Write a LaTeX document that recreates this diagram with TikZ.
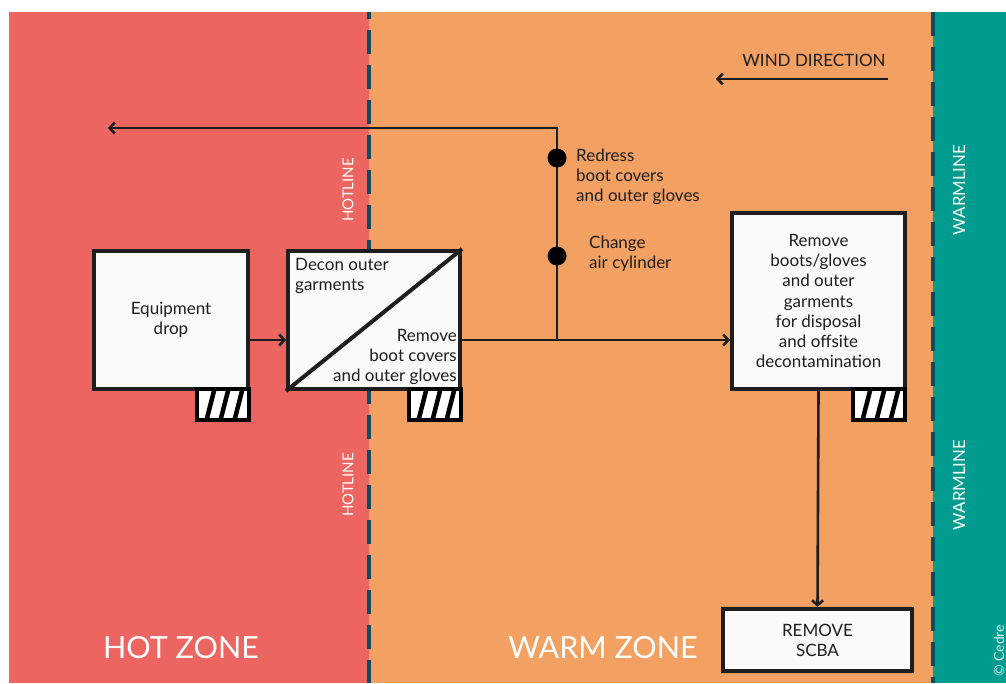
\documentclass[tikz,border=0pt]{standalone}
\usepackage{fontspec}
\setmainfont{Lato}
\usetikzlibrary{arrows.meta}
\definecolor{hotred}{HTML}{EC6560}
\definecolor{warmorange}{HTML}{F3A063}
\definecolor{tealzone}{HTML}{009C8F}
\definecolor{dashblue}{HTML}{124A60}
\definecolor{ink}{HTML}{1E1E1E}
\definecolor{boxfill}{HTML}{FAFAFA}
\tikzset{
 stepbox/.style={draw=ink, line width=4pt, fill=boxfill, inner sep=0pt, text=ink, align=center, font=\fontsize{17}{20.2}\selectfont},
 lbl/.style={text=ink, font=\fontsize{17}{20.2}\selectfont, inner sep=0pt},
 conn/.style={draw=ink, line width=2.6pt},
 arr/.style={conn, -{Straight Barb[length=5pt,width=11pt]}},
 zonelbl/.style={text=white, font=\fontsize{30.5}{36}\selectfont, inner sep=0pt},
 linelbl/.style={text=white, font=\fontsize{15}{18}\selectfont, rotate=90, inner sep=0pt},
 zoneline/.style={draw=dashblue, line width=3.5pt, dash pattern=on 24pt off 11pt},
 dotnode/.style={circle, fill=black, minimum size=19pt, inner sep=0pt},
}
\newcommand\hatchbox[2]{%
 \begin{scope}
  \clip (#1,#2) rectangle ++(52,31);
  \fill[white] (#1,#2) rectangle ++(52,31);
  \foreach \k in {0,1,2,3} \draw[black, line width=4.5pt] ({#1+9+14*\k},{#2+33}) -- ++(9,-35);
 \end{scope}
 \draw[black, line width=3.5pt] (#1,#2) rectangle ++(52,31);
}
\begin{document}
\begin{tikzpicture}[x=1pt,y=-1pt]
\useasboundingbox (0,0) rectangle (1006,683);
\clip (0,0) rectangle (1006,683);
% zones
\fill[white] (0,0) rectangle (1006,683);
\fill[hotred] (9,12) rectangle (369,683);
\fill[warmorange] (369,12) rectangle (933,683);
\fill[tealzone] (933,12) rectangle (1006,683);
\draw[zoneline, dash phase=17pt] (369,12) -- (369,683);
\draw[zoneline] (933,12) -- (933,683);
% zone line labels
\node[linelbl] (hot1) at (348,190) {HOTLINE};
\node[linelbl] (hot2) at (348,485) {HOTLINE};
\node[linelbl, font=\fontsize{16.8}{18}\selectfont] (warm1) at (959,190) {WARMLINE};
\node[linelbl, font=\fontsize{16.8}{18}\selectfont] (warm2) at (959,485) {WARMLINE};
\node[text=white, opacity=0.85, font=\fontsize{14}{16}\selectfont, rotate=90, anchor=base west, inner sep=0pt] (copy) at (1004,677) {© Cedre};
% zone labels
\node[zonelbl] (hotz) at (181,648) {HOT ZONE};
\node[zonelbl] (warmz) at (603,648) {WARM ZONE};
% wind
\node[lbl] (windtxt) at (814,60) {WIND DIRECTION};
\coordinate (windstart) at (888,79);
\coordinate (windend) at (716,79);
\draw[arr] (windstart) -- (windend);
% boxes
\node[stepbox, minimum width=154pt, minimum height=138pt] (drop) at (171,320) {Equipment\\drop};
\node[stepbox, minimum width=172pt, minimum height=138pt] (decon) at (374,320) {};
\draw[ink, line width=4pt] (decon.south west) -- (decon.north east);
\node[lbl, anchor=north west, align=left] (decontop) at (295,258) {Decon outer\\garments};
\node[lbl, anchor=south east, align=right] (deconbot) at (457,385) {Remove\\boot covers\\and outer gloves};
\node[stepbox, minimum width=173pt, minimum height=176pt] (bigbox) at (818.5,301) {Remove\\boots/gloves\\and outer\\garments\\for disposal\\and offsite\\decontamination};
\node[stepbox, minimum width=189pt, minimum height=62pt] (scba) at (817.5,640) {REMOVE\\SCBA};
\hatchbox{197}{389}
\hatchbox{409}{389}
\hatchbox{853}{389}
% connectors
\coordinate (flowy) at (0,340);
\coordinate (junction) at (557,340);
\coordinate (ret) at (108,128);
\draw[arr] (drop.east |- flowy) -- (decon.west |- flowy);
\draw[arr] (decon.east |- flowy) -- (bigbox.west |- flowy);
\draw[arr] (junction) |- (ret);
\draw[arr] (bigbox.south) -- (scba.north);
\node[dotnode] (dot1) at (557,158) {};
\node[dotnode] (dot2) at (557,256) {};
\node[lbl, anchor=west, align=left] (redress) at (576,177) {Redress\\boot covers\\and outer gloves};
\node[lbl, anchor=west, align=left] (change) at (589,254) {Change\\air cylinder};
\end{tikzpicture}
\end{document}
